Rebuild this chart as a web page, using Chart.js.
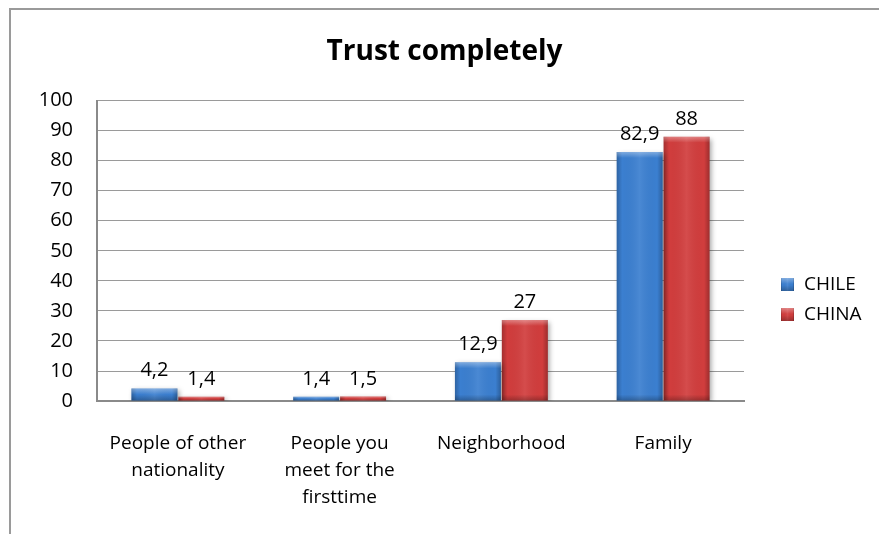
<!DOCTYPE html>
<html>
<head>
<meta charset="utf-8">
<script src="https://cdn.jsdelivr.net/npm/chart.js@4"></script>
<style>
  html, body { margin: 0; padding: 0; background: #fff; }
  #wrap { width: 879px; height: 534px; position: relative; }
</style>
</head>
<body>
<div id="wrap"><canvas id="trustChart"></canvas></div>
<script>
// Categories and values
const categories = [
    ['People of other', 'nationality'],
    ['People you', 'meet for the', 'firsttime'],
    'Neighborhood',
    'Family'
];
const chileData = [4.2, 1.4, 12.9, 82.9];
const chinaData = [1.4, 1.5, 27, 88];
const yTicks = [0, 10, 20, 30, 40, 50, 60, 70, 80, 90, 100];

const FONT = '"Open Sans", Lato, sans-serif';

// Outer frame around the chart (left and top edges)
const framePlugin = {
    id: 'frame',
    beforeDraw(chart) {
        const ctx = chart.ctx;
        ctx.save();
        ctx.strokeStyle = '#9a9a9a';
        ctx.lineWidth = 2;
        ctx.beginPath();
        ctx.moveTo(10, chart.height);
        ctx.lineTo(10, 9);
        ctx.lineTo(chart.width, 9);
        ctx.stroke();
        ctx.restore();
    }
};

// Soft shadow under the bars
const shadowPlugin = {
    id: 'barShadow',
    beforeDatasetsDraw(chart) {
        const ctx = chart.ctx;
        ctx.save();
        ctx.shadowColor = 'rgba(0,0,0,0.35)';
        ctx.shadowBlur = 5;
        ctx.shadowOffsetX = 2;
        ctx.shadowOffsetY = 2;
    },
    afterDatasetsDraw(chart) {
        chart.ctx.restore();
    }
};

function shadeBox(ctx, left, top, w, h) {
    const g = ctx.createLinearGradient(left, 0, left + w, 0);
    g.addColorStop(0, 'rgba(0,0,0,0.22)');
    g.addColorStop(0.12, 'rgba(0,0,0,0.0)');
    g.addColorStop(0.5, 'rgba(255,255,255,0.08)');
    g.addColorStop(0.88, 'rgba(0,0,0,0.0)');
    g.addColorStop(1, 'rgba(0,0,0,0.25)');
    ctx.fillStyle = g;
    ctx.fillRect(left, top, w, h);
    const cap = Math.min(6, h / 2);
    const tg = ctx.createLinearGradient(0, top, 0, top + cap);
    tg.addColorStop(0, 'rgba(255,255,255,0.35)');
    tg.addColorStop(1, 'rgba(255,255,255,0)');
    ctx.fillStyle = tg;
    ctx.fillRect(left, top, w, cap);
    const bg = ctx.createLinearGradient(0, top + h - cap, 0, top + h);
    bg.addColorStop(0, 'rgba(0,0,0,0)');
    bg.addColorStop(1, 'rgba(0,0,0,0.25)');
    ctx.fillStyle = bg;
    ctx.fillRect(left, top + h - cap, w, cap);
}

// Bevel shading on each bar plus value labels with comma decimals
const bevelPlugin = {
    id: 'bevelLabels',
    afterDatasetsDraw(chart) {
        const ctx = chart.ctx;
        chart.data.datasets.forEach((ds, di) => {
            const meta = chart.getDatasetMeta(di);
            meta.data.forEach((bar, i) => {
                const left = bar.x - bar.width / 2;
                ctx.save();
                shadeBox(ctx, left, bar.y, bar.width, bar.base - bar.y);
                ctx.restore();

                const v = ds.data[i];
                ctx.save();
                ctx.font = '20px ' + FONT;
                ctx.fillStyle = '#000';
                ctx.textAlign = 'center';
                ctx.textBaseline = 'alphabetic';
                ctx.fillText(String(v).replace('.', ','), bar.x, bar.y - 12);
                ctx.restore();
            });
        });
    }
};

// Legend drawn in the space kept free at the right
const sideLegend = {
    id: 'sideLegend',
    afterDraw(chart) {
        const ctx = chart.ctx;
        const x = chart.chartArea.right + 37;
        const y0 = 284;
        chart.data.datasets.forEach((ds, i) => {
            const cy = y0 + i * 30;
            ctx.save();
            ctx.fillStyle = ds.backgroundColor;
            ctx.fillRect(x, cy - 6, 13, 13);
            shadeBox(ctx, x, cy - 6, 13, 13);
            ctx.fillStyle = '#000';
            ctx.font = '19px ' + FONT;
            ctx.textBaseline = 'middle';
            ctx.textAlign = 'left';
            ctx.fillText(ds.label, x + 23, cy + 1);
            ctx.restore();
        });
    }
};

const ctx = document.getElementById('trustChart').getContext('2d');
const trustChart = new Chart(ctx, {
    type: 'bar',
    data: {
        labels: categories,
        datasets: [
            {
                label: 'CHILE',
                data: chileData,
                backgroundColor: '#3b7fd0',
                borderWidth: 0,
                categoryPercentage: 0.58,
                barPercentage: 0.98
            },
            {
                label: 'CHINA',
                data: chinaData,
                backgroundColor: '#d13d3d',
                borderWidth: 0,
                categoryPercentage: 0.58,
                barPercentage: 0.98
            }
        ]
    },
    options: {
        responsive: true,
        maintainAspectRatio: false,
        animation: false,
        layout: {
            padding: { top: 35, right: 0, bottom: -6, left: 10 }
        },
        plugins: {
            title: {
                display: true,
                text: 'Trust completely',
                color: '#000',
                font: { family: FONT, size: 28, weight: 'bold' },
                padding: { top: 0, bottom: 32 }
            },
            legend: { display: false },
            tooltip: { enabled: false }
        },
        scales: {
            x: {
                grid: { display: false, drawTicks: false },
                border: { color: '#8a8a8a', width: 2 },
                ticks: {
                    color: '#000',
                    font: { family: FONT, size: 19, lineHeight: 1.42 },
                    padding: 29,
                    maxRotation: 0,
                    autoSkip: false
                }
            },
            y: {
                min: 0,
                max: 100,
                afterBuildTicks(scale) {
                    scale.ticks = yTicks.map(v => ({ value: v }));
                },
                afterFit(scale) {
                    scale.width = 87;
                },
                grid: { color: '#9a9a9a', lineWidth: 1, drawTicks: false },
                border: { color: '#8a8a8a', width: 2 },
                ticks: {
                    color: '#000',
                    font: { family: FONT, size: 20 },
                    padding: 24
                }
            },
            // empty right-hand scale that keeps room for the legend
            side: {
                position: 'right',
                min: 0,
                max: 100,
                afterFit(scale) {
                    scale.width = 135;
                },
                grid: { display: false, drawTicks: false },
                border: { display: false },
                ticks: { display: false }
            }
        }
    },
    plugins: [framePlugin, shadowPlugin, bevelPlugin, sideLegend]
});
</script>
</body>
</html>
